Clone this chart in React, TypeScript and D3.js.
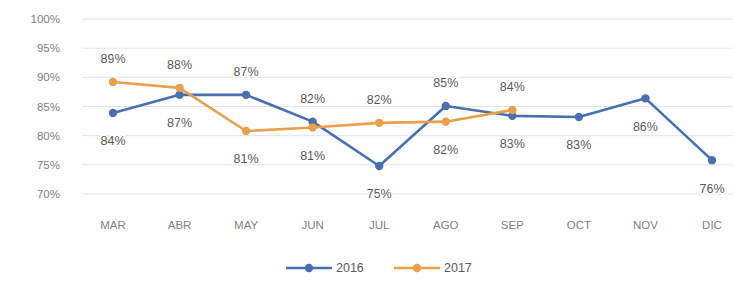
import React from "react";
import * as d3 from "d3";

// months on the x axis
const months = ["MAR", "ABR", "MAY", "JUN", "JUL", "AGO", "SEP", "OCT", "NOV", "DIC"];
// percentages
const values2016 = [83.9, 87.0, 87.0, 82.4, 74.8, 85.1, 83.4, 83.2, 86.4, 75.8];
const values2017 = [89.2, 88.2, 80.8, 81.4, 82.2, 82.4, 84.4];
// where each data label sits relative to its point
const place2016 = ["below", "below", "above", "above", "below", "above", "below", "below", "below", "below"];
const place2017 = ["above", "above", "below", "below", "above", "below", "above"];
const yTicks = [70, 75, 80, 85, 90, 95, 100];

const series = [
  { name: "2016", values: values2016, place: place2016, color: "#4a6fae" },
  { name: "2017", values: values2017, place: place2017, color: "#e9a04c" },
];

const width = 733;
const height = 291;

export default function App() {
  const x = d3.scalePoint<string>().domain(months).range([113, 712]);
  const y = d3.scaleLinear().domain([70, 100]).range([194, 19]);

  const line = d3
    .line<number>()
    .x((_, i) => x(months[i]) as number)
    .y((d) => y(d));

  const font = "'Liberation Sans', Arial, sans-serif";

  return (
    <svg
      width={width}
      height={height}
      style={{ position: "absolute", left: 0, top: 0, background: "#fff" }}
      fontFamily={font}
    >
      {/* gridlines + y labels */}
      {yTicks.map((t) => (
        <g key={t}>
          <line x1={82} x2={733} y1={y(t)} y2={y(t)} stroke="#e3e3e3" strokeWidth={1} />
          <text x={60} y={y(t)} dy="0.35em" textAnchor="end" fontSize={11.5} fill="#7f7f7f">
            {t}%
          </text>
        </g>
      ))}

      {/* x labels */}
      {months.map((m) => (
        <text key={m} x={x(m)} y={229} textAnchor="middle" fontSize={11.5} fill="#7f7f7f">
          {m}
        </text>
      ))}

      {/* lines */}
      {series.map((s) => (
        <g key={s.name}>
          <path d={line(s.values) || ""} fill="none" stroke={s.color} strokeWidth={2.6} strokeLinejoin="round" />
          {s.values.map((v, i) => (
            <circle key={i} cx={x(months[i])} cy={y(v)} r={4.2} fill={s.color} />
          ))}
        </g>
      ))}

      {/* data labels */}
      {series.map((s) =>
        s.values.map((v, i) => (
          <text
            key={s.name + i}
            x={x(months[i])}
            y={y(v) + (s.place[i] === "above" ? -23 : 28)}
            dy="0.35em"
            textAnchor="middle"
            fontSize={12.5}
            fill="#595959"
            stroke="#fff"
            strokeWidth={3}
            paintOrder="stroke"
          >
            {Math.round(v)}%
          </text>
        ))
      )}

      {/* legend */}
      {series.map((s, i) => {
        const lx = 286 + i * 108;
        return (
          <g key={s.name} transform={`translate(${lx}, 268)`}>
            <line x1={0} x2={46} y1={0} y2={0} stroke={s.color} strokeWidth={2.6} />
            <circle cx={23} cy={0} r={4.2} fill={s.color} />
            <text x={50} y={0} dy="0.35em" fontSize={12.5} fill="#595959">
              {s.name}
            </text>
          </g>
        );
      })}
    </svg>
  );
}
